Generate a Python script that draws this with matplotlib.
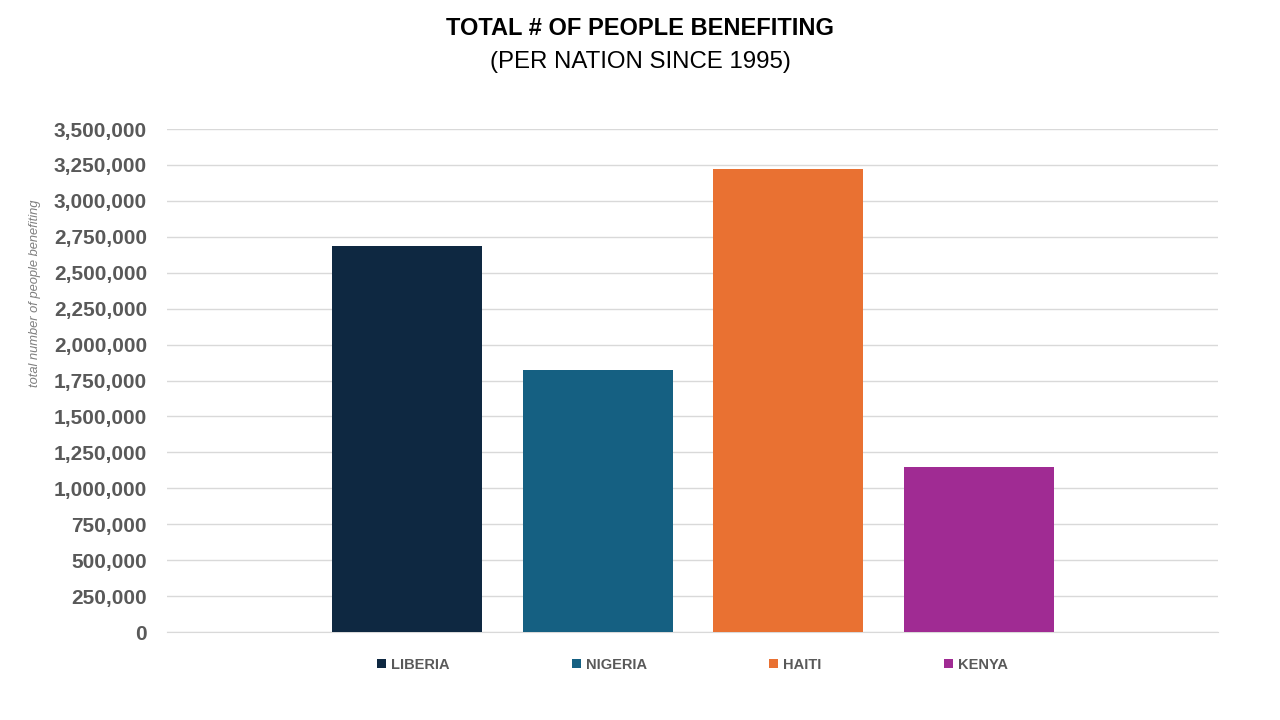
import matplotlib.pyplot as plt
from matplotlib.patches import Patch
from matplotlib.ticker import FuncFormatter, MultipleLocator

nations = ["LIBERIA", "NIGERIA", "HAITI", "KENYA"]
people = [2685000, 1823000, 3222000, 1150000]
colors = ["#0E2841", "#156082", "#E97132", "#A02B93"]

plt.rcParams["font.family"] = ["Liberation Sans", "DejaVu Sans"]

fig = plt.figure(figsize=(12.8, 7.2), dpi=100)
ax = fig.add_axes([0.1305, 0.1222, 0.8211, 0.6986])

positions = list(range(len(nations)))
ax.bar(positions, people, width=0.787, color=colors, zorder=3)

ax.set_xlim(-1.26, 4.257)
ax.set_ylim(0, 3500000)
ax.yaxis.set_major_locator(MultipleLocator(250000))
ax.yaxis.set_major_formatter(FuncFormatter(lambda v, p: "{:,.0f}".format(v)))
ax.grid(True, axis="y", color="#D9D9D9", linewidth=1.0, zorder=0)
ax.set_xticks([])
ax.tick_params(axis="y", length=0, pad=14.5, labelsize=15, labelcolor="#595959")
for label in ax.get_yticklabels():
    label.set_fontweight("bold")
for side in ["top", "right", "left"]:
    ax.spines[side].set_visible(False)
ax.spines["bottom"].set_color("#D9D9D9")

fig.text(0.5, 0.960, "TOTAL # OF PEOPLE BENEFITING", ha="center", va="center",
         fontsize=17, fontweight="bold", color="black")
fig.text(0.5, 0.914, "(PER NATION SINCE 1995)", ha="center", va="center",
         fontsize=17.3, color="black")
fig.text(0.027, 0.593, "total number of people benefiting", rotation=90,
         ha="center", va="center", fontsize=9.3, style="italic", color="#7F7F7F")

handles = [Patch(facecolor=c, label=n) for n, c in zip(nations, colors)]
leg = ax.legend(handles=handles, ncol=4, loc="upper center",
                bbox_to_anchor=(0.5, -0.025), frameon=False,
                handlelength=0.6, handleheight=0.6, handletextpad=0.35,
                columnspacing=8.4, prop={"size": 10.5, "weight": "bold"})
for t in leg.get_texts():
    t.set_color("#595959")

fig.savefig("out.png", dpi=100)
